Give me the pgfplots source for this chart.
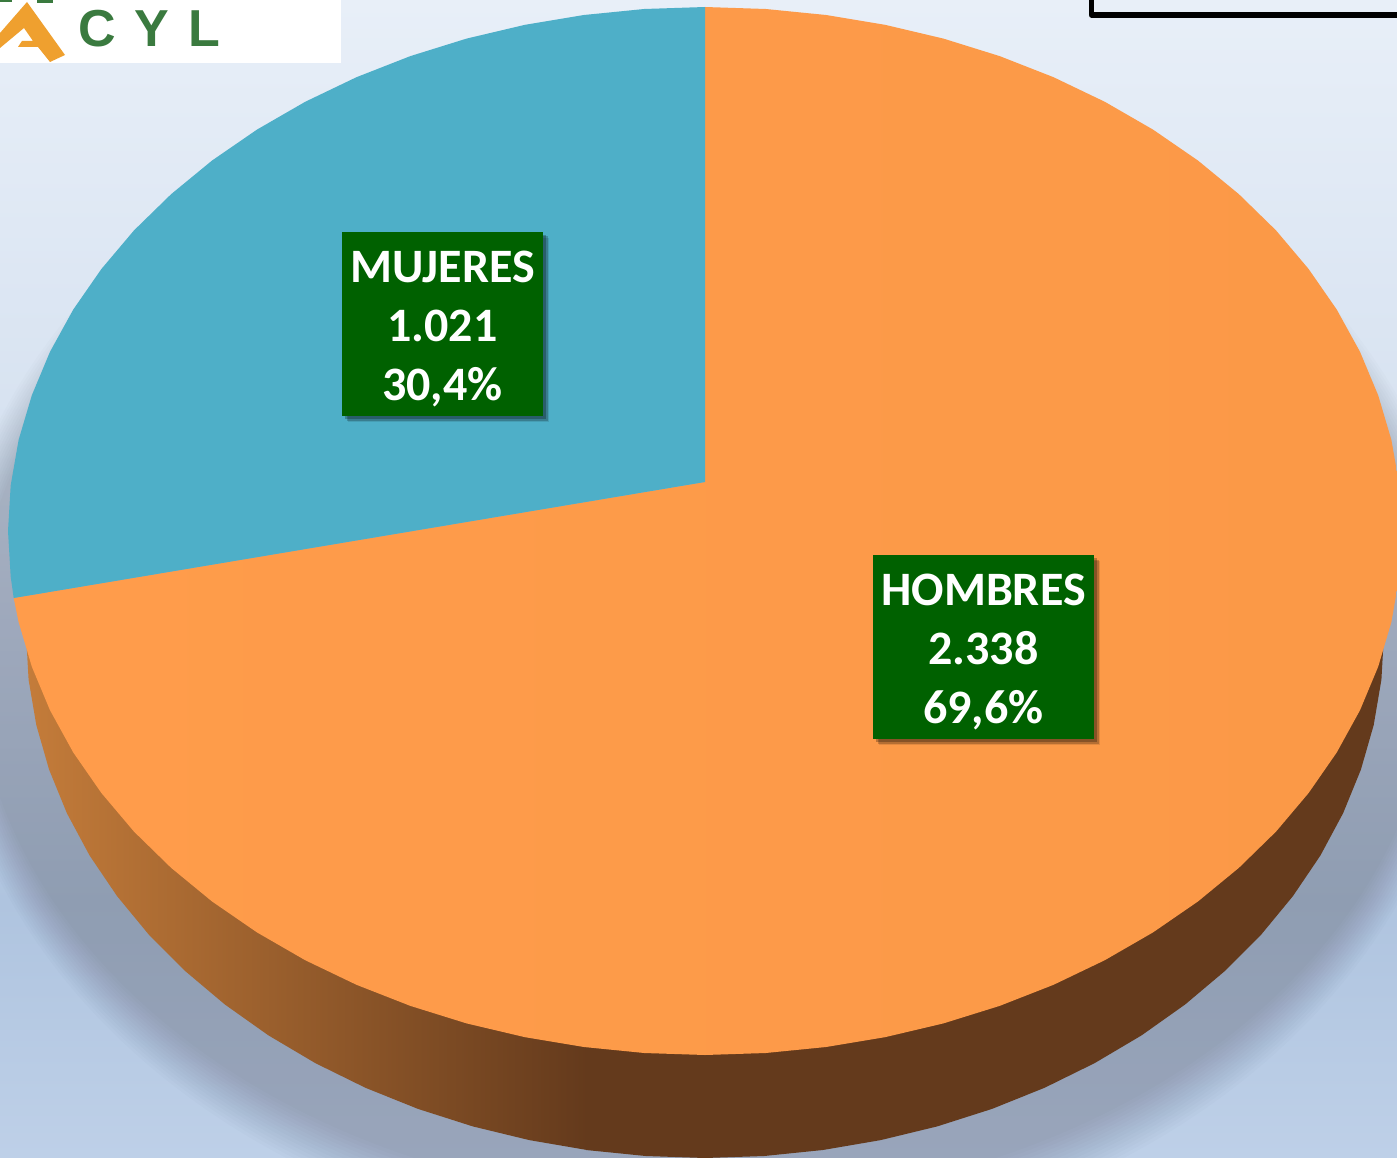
\documentclass[border=0pt]{standalone}
\usepackage{pgfplots}
\pgfplotsset{compat=1.18}
\usepackage{fontspec}
\setmainfont{Carlito}
\newfontfamily\logofont{Liberation Sans}
\definecolor{cOrangeL}{HTML}{FF9C4B}
\definecolor{cOrangeR}{HTML}{FB9947}
\definecolor{cBlue}{HTML}{4EAFC8}
\definecolor{cWallA}{HTML}{C47C3A}
\definecolor{cWallB}{HTML}{643A1C}
\definecolor{cBox}{HTML}{006100}
\definecolor{cLogoG}{HTML}{3A7A3F}
\definecolor{cLogoO}{HTML}{EFA02F}
\definecolor{bgA}{HTML}{E8EFF8}
\definecolor{bgB}{HTML}{D8E3F1}
\definecolor{bgC}{HTML}{AFC4DF}
\definecolor{bgD}{HTML}{BED0E8}
\pgfdeclareverticalshading{bgshade}{100bp}{color(0bp)=(bgD); color(25bp)=(bgD); color(36.1bp)=(bgC); color(57.7bp)=(bgB); color(75bp)=(bgA); color(100bp)=(bgA)}
% boxed label: x0,y0,x1,y1, text
\newcommand{\labelbox}[5]{%
  \fill[black,opacity=.10] (axis cs:#1+6,#2+6) rectangle (axis cs:#3+6,#4+6);
  \fill[black,opacity=.2] (axis cs:#1+4.5,#2+4.5) rectangle (axis cs:#3+4.5,#4+4.5);
  \fill[black,opacity=.25] (axis cs:#1+3,#2+3) rectangle (axis cs:#3+3,#4+3);
  \fill[cBox] (axis cs:#1,#2) rectangle (axis cs:#3,#4);
  \node[text=white,align=center,inner sep=0pt,font=\fontsize{48}{59}\selectfont\bfseries]
    at (axis cs:{(#1+#3)/2},{(#2+#4)/2+5}) {#5};
}
\begin{document}
\begin{tikzpicture}[x=1pt,y=1pt]
\path[use as bounding box] (0,0) rectangle (1397,1158);
\shade[shading=bgshade] (0,0) rectangle (1397,1158);
% soft shadow below the pie
\foreach \i in {0,...,14}{
  \fill[black,opacity=.0135] (705,508) ellipse [x radius={(762-2.2*\i)*1pt},y radius={(608-3.9*\i)*1pt}];
}
\begin{axis}[
  at={(0,0)},anchor=south west,
  scale only axis,width=1397pt,height=1158pt,
  xmin=0,xmax=1397,ymin=0,ymax=1158,y dir=reverse,
  axis lines=none,clip=true]
% wall, left part with gradient
\addplot[left color=cWallA,right color=cWallB,draw=none] coordinates {
 (26,634)(28.6,679.7)(36.3,725)(49.1,769.6)(66.9,813.2)(89.6,855.5)(117,896)(148.8,934.6)
 (184.9,970.8)(224.9,1004.5)(268.5,1035.4)(315.5,1063.2)(365.5,1087.8)(418,1108.9)
 (472.8,1126.4)(529.3,1140.1)(587.1,1150)(587.1,800)};
% wall, dark part
\addplot[fill=cWallB,draw=none] coordinates {
 (586,800)(586,1150)(645.8,1156)(705,1158)(764.2,1156)(822.9,1150)(880.7,1140.1)(937.2,1126.4)
 (992,1108.9)(1044.5,1087.8)(1094.5,1063.2)(1141.5,1035.4)(1185.1,1004.5)(1225.1,970.8)
 (1261.2,934.6)(1293,896)(1320.4,855.5)(1343.1,813.2)(1360.9,769.6)(1373.7,725)(1381.4,679.7)(1384,634)};
% HOMBRES 2.338 (69,6%)
\addplot[left color=cOrangeL,right color=cOrangeR,draw=none] coordinates {
 (705,482)(705,7)(765.8,9)(826,15)(885.4,24.9)(943.4,38.6)(999.6,56.1)(1053.5,77.2)(1104.8,101.8)
 (1153,129.6)(1197.9,160.5)(1238.9,194.2)(1276,230.4)(1308.6,269)(1336.7,309.5)(1360,351.8)
 (1378.2,395.4)(1391.4,440)(1399.3,485.3)(1402,531)(1399.3,576.7)(1391.4,622)(1378.2,666.6)
 (1360,710.2)(1336.7,752.5)(1308.6,793)(1276,831.6)(1238.9,867.8)(1197.9,901.5)(1153,932.4)
 (1104.8,960.2)(1053.5,984.8)(999.6,1005.9)(943.4,1023.4)(885.4,1037.1)(826,1047)(765.8,1053)
 (705,1055)(644.2,1053)(584,1047)(524.6,1037.1)(466.6,1023.4)(410.4,1005.9)(356.5,984.8)
 (305.2,960.2)(257,932.4)(212.1,901.5)(171.1,867.8)(134,831.6)(101.4,793)(73.3,752.5)(50,710.2)
 (31.8,666.6)(18.6,622)(13.7,598)} -- cycle;
% MUJERES 1.021 (30,4%)
\addplot[fill=cBlue,draw=none] coordinates {
 (705,482)(705,7)(644.2,9)(584,15)(524.6,24.9)(466.6,38.6)(410.4,56.1)(356.5,77.2)(305.2,101.8)
 (257,129.6)(212.1,160.5)(171.1,194.2)(134,230.4)(101.4,269)(73.3,309.5)(50,351.8)(31.8,395.4)
 (18.6,440)(10.7,485.3)(8,531)(10.7,576.7)(13.7,598)};
% labels
\labelbox{342}{232}{543}{416}{MUJERES\\1.021\\30,4\%}
\labelbox{873}{555}{1094}{739}{HOMBRES\\2.338\\69,6\%}
% logo
\fill[white] (axis cs:0,0) rectangle (axis cs:341,63);
\fill[cLogoG] (axis cs:0,0) rectangle (axis cs:12,2);
\fill[cLogoG] (axis cs:37,0) rectangle (axis cs:53,3);
\fill[cLogoO] (axis cs:0,33) -- (axis cs:27,2) -- (axis cs:65,55) -- (axis cs:50,62) -- (axis cs:38,47)
  -- (axis cs:18,47) -- (axis cs:22,41) -- (axis cs:33,41) -- (axis cs:24,28) -- (axis cs:0,48) -- cycle;
\node[anchor=base,inner sep=0pt,text=cLogoG,font=\logofont\bfseries\fontsize{52}{52}\selectfont] at (axis cs:97,47) {C};
\node[anchor=base,inner sep=0pt,text=cLogoG,font=\logofont\bfseries\fontsize{52}{52}\selectfont] at (axis cs:152,47) {Y};
\node[anchor=base,inner sep=0pt,text=cLogoG,font=\logofont\bfseries\fontsize{52}{52}\selectfont] at (axis cs:204,47) {L};
% frame at top right
\draw[black,line width=5.5pt,line join=round] (axis cs:1091.5,-5) -- (axis cs:1091.5,15) -- (axis cs:1405,15);
\end{axis}
\end{tikzpicture}
\end{document}
